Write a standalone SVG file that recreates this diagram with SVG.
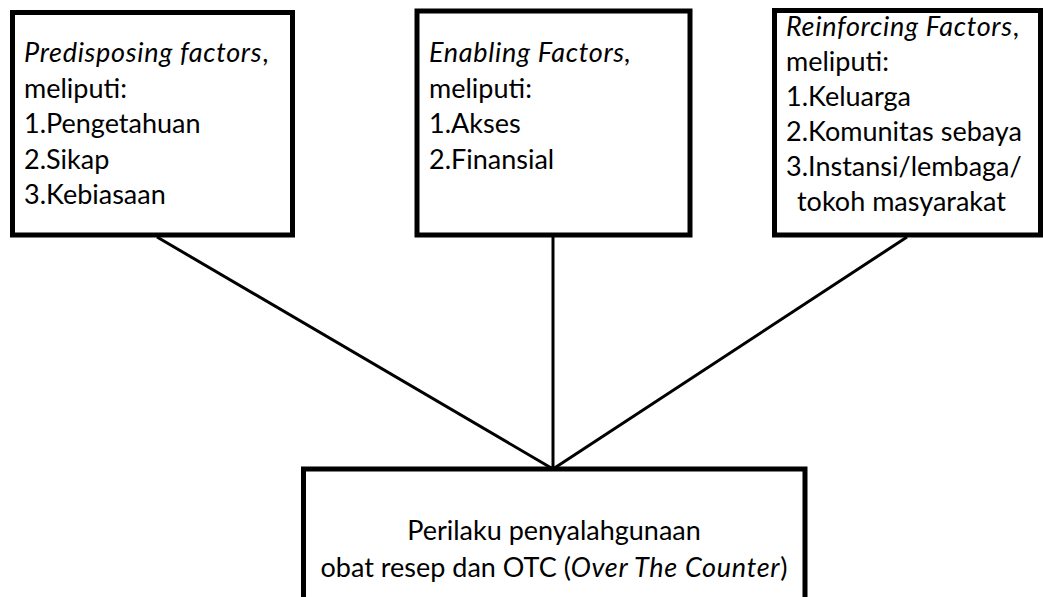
<svg xmlns="http://www.w3.org/2000/svg" width="1043" height="597" viewBox="0 0 1043 597">
<style>
.box{fill:#fff;stroke:#000;stroke-width:5}
.t{font-family:Lato,"Open Sans","Liberation Sans",sans-serif;font-size:27px;fill:#000}
.i{font-style:italic;letter-spacing:0.7px}
.c{text-anchor:middle}
.ln{stroke:#000;stroke-width:3;fill:none}
</style>
<rect width="1043" height="597" fill="#fff"/>
<g id="connectors">
<line class="ln" x1="157" y1="237" x2="553" y2="469"/>
<line class="ln" x1="553" y1="237" x2="553" y2="469"/>
<line class="ln" x1="907" y1="237" x2="553" y2="469"/>
</g>
<g id="predisposing">
<rect class="box" x="12.5" y="12.5" width="280" height="222.5"/>
<text class="t" x="24" y="62"><tspan class="i">Predisposing factors</tspan>,</text>
<text class="t" x="24" y="97.5">meliputi:</text>
<text class="t" x="24" y="133">1.Pengetahuan</text>
<text class="t" x="24" y="168.5">2.Sikap</text>
<text class="t" x="24" y="204">3.Kebiasaan</text>
</g>
<g id="enabling">
<rect class="box" x="417" y="11" width="273" height="224"/>
<text class="t i" x="429" y="62">Enabling Factors,</text>
<text class="t" x="429" y="97.5">meliputi:</text>
<text class="t" x="429" y="133">1.Akses</text>
<text class="t" x="429" y="168.5">2.Finansial</text>
</g>
<g id="reinforcing">
<rect class="box" x="774.5" y="10.5" width="266" height="224.5"/>
<text class="t" x="786" y="36"><tspan class="i">Reinforcing Factors</tspan>,</text>
<text class="t" x="786" y="71">meliputi:</text>
<text class="t" x="786" y="106">1.Keluarga</text>
<text class="t" x="786" y="141">2.Komunitas sebaya</text>
<text class="t" x="786" y="176">3.Instansi/lembaga/</text>
<text class="t" x="797" y="211">tokoh masyarakat</text>
</g>
<g id="perilaku">
<rect class="box" x="303.5" y="469" width="501.5" height="150"/>
<text class="t c" x="554" y="540">Perilaku penyalahgunaan</text>
<text class="t c" x="554" y="577">obat resep dan OTC (<tspan class="i">Over The Counter</tspan>)</text>
</g>
</svg>
